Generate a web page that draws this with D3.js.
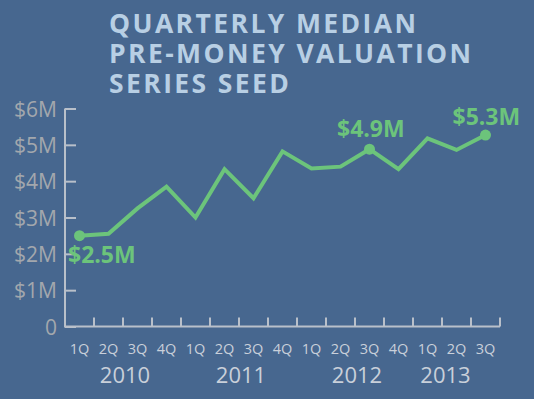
<!DOCTYPE html>
<html>
<head>
<meta charset="utf-8">
<script src="https://cdn.jsdelivr.net/npm/d3@7"></script>
<style>
  html, body { margin: 0; padding: 0; background: #47678f; }
  svg { display: block; font-family: "Open Sans", sans-serif; }
</style>
</head>
<body>
<div id="chart"></div>
<script>

// --> DATA

var quarters = ["1Q", "2Q", "3Q", "4Q", "1Q", "2Q", "3Q", "4Q", "1Q", "2Q", "3Q", "4Q", "1Q", "2Q", "3Q"];
var years = ["2010", "2011", "2012", "2013"];
var valuations = [2.5, 2.55, 3.25, 3.85, 3.0, 4.33, 3.53, 4.82, 4.35, 4.4, 4.88, 4.33, 5.18, 4.86, 5.27];
var yTicks = [0, 1, 2, 3, 4, 5, 6];
var callouts = [0, 10, 14];
var calloutLabels = ["$2.5M", "$4.9M", "$5.3M"];
var titleLines = ["QUARTERLY MEDIAN", "PRE-MONEY VALUATION", "SERIES SEED"];

// --> SVG

var width = 534,
    height = 399;

var bg = '#47678f';
var green = '#6cc47b';
var axisColor = '#b9c0ca';

var svg = d3.select("#chart").append("svg")
    .attr("width", width)
    .attr("height", height);

svg.append("rect")
    .attr("width", width)
    .attr("height", height)
    .attr("fill", bg);

var x = d3.scaleBand()
    .domain(d3.range(valuations.length))
    .range([65, 500]);

var y = d3.scaleLinear()
    .domain([0, 6])
    .range([326.5, 108.5]);

function cx(i) { return x(i) + x.bandwidth() / 2; }

// title
svg.append("g").selectAll("text")
    .data(titleLines)
    .enter().append("text")
    .attr("x", 109)
    .attr("y", function (d, i) { return 33 + i * 30; })
    .attr("fill", "#b8cfe4")
    .style("font-size", "26.5px")
    .style("font-weight", "bold")
    .style("letter-spacing", "2.4px")
    .text(function (d) { return d; });

// y axis
var yAxis = d3.axisLeft(y)
    .tickValues(yTicks)
    .tickSize(-11)
    .tickPadding(8)
    .tickFormat(function (d) { return d === 0 ? "0" : "$" + d + "M"; });

var gy = svg.append("g")
    .attr("transform", "translate(65,0)")
    .call(yAxis);

gy.select(".domain").remove();
gy.selectAll("line").attr("stroke", axisColor).attr("stroke-width", 2);
gy.selectAll("text")
    .attr("fill", "#a3a7ad")
    .attr("dy", "0.36em")
    .style("font-size", "21px")
    .style("font-family", "Open Sans, sans-serif");

// x axis
var xAxis = d3.axisBottom(x)
    .tickSize(0)
    .tickPadding(17)
    .tickFormat(function (d) { return quarters[d]; });

var gx = svg.append("g")
    .attr("transform", "translate(0," + y(0) + ")")
    .call(xAxis);

gx.select(".domain").remove();
gx.selectAll("text")
    .attr("fill", "#c9d0da")
    .style("font-size", "14.5px")
    .style("font-family", "Open Sans, sans-serif");

// band boundary ticks
svg.append("g").selectAll("line")
    .data(d3.range(1, valuations.length + 1))
    .enter().append("line")
    .attr("x1", function (d) { return x(d - 1) + x.bandwidth(); })
    .attr("x2", function (d) { return x(d - 1) + x.bandwidth(); })
    .attr("y1", y(0))
    .attr("y2", y(0) - 9)
    .attr("stroke", axisColor)
    .attr("stroke-width", 2);

// axis lines
svg.append("path")
    .attr("d", "M" + x.range()[0] + "," + y(6) + "V" + y(0) + "H" + x.range()[1])
    .attr("fill", "none")
    .attr("stroke", axisColor)
    .attr("stroke-width", 2);

// years
svg.append("g").selectAll("text")
    .data(years)
    .enter().append("text")
    .attr("x", function (d, i) {
        var idx = d3.range(i * 4, Math.min(i * 4 + 4, valuations.length));
        var mid = d3.mean(idx, cx);
        return i === years.length - 1 ? mid - 11 : mid + 2;
    })
    .attr("y", 383)
    .attr("text-anchor", "middle")
    .attr("fill", "#c9d0da")
    .style("font-size", "22px")
    .text(function (d) { return d; });

// line
var line = d3.line()
    .x(function (d, i) { return cx(i); })
    .y(function (d) { return y(d); });

svg.append("path")
    .datum(valuations)
    .attr("d", line)
    .attr("fill", "none")
    .attr("stroke", green)
    .attr("stroke-width", 4)
    .attr("stroke-linejoin", "miter");

svg.append("g").selectAll("circle")
    .data(callouts)
    .enter().append("circle")
    .attr("cx", function (d) { return cx(d); })
    .attr("cy", function (d) { return y(valuations[d]); })
    .attr("r", 5.5)
    .attr("fill", green);

var labelOffsets = [[-11.5, 27.5], [-32.5, -12], [-33, -10]];

svg.append("g").selectAll("text")
    .data(callouts)
    .enter().append("text")
    .attr("x", function (d, i) { return cx(d) + labelOffsets[i][0]; })
    .attr("y", function (d, i) { return y(valuations[d]) + labelOffsets[i][1]; })
    .attr("fill", green)
    .style("font-size", "23px")
    .style("font-weight", "bold")
    .text(function (d, i) { return calloutLabels[i]; });

</script>
</body>
</html>
